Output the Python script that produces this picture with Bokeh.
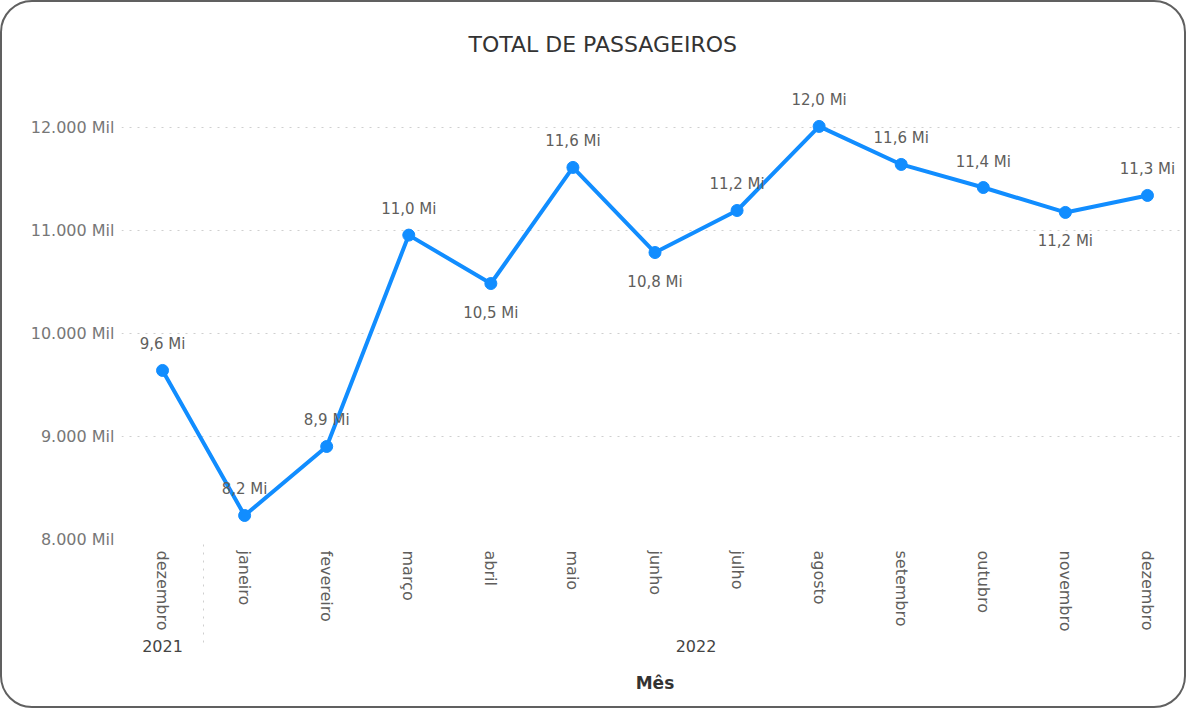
from bokeh.plotting import figure
from bokeh.models import FactorRange, ColumnDataSource, FixedTicker, Range1d, LabelSet
from bokeh.core.properties import value
from bokeh.embed import file_html
from bokeh.resources import INLINE

# ---- data ----
years = ["2021"] + ["2022"] * 12
months = ["dezembro", "janeiro", "fevereiro", "março", "abril", "maio", "junho",
          "julho", "agosto", "setembro", "outubro", "novembro", "dezembro"]
passageiros_mil = [9641, 8233, 8903, 10955, 10485, 11612, 10786,
                   11194, 12010, 11641, 11417, 11175, 11340]
y_ticks = [8000, 9000, 10000, 11000, 12000]

# label placement style (Power BI auto placement)
label_below = [False, False, False, False, True, False, True,
               False, False, False, False, True, False]

FONT = "DejaVu Sans"
factors = list(zip(years, months))
labels = [("%.1f" % (v / 1000.0)).replace(".", ",") + " Mi" for v in passageiros_mil]
offsets = [-29 if b else 26 for b in label_below]

src = ColumnDataSource(dict(x=factors, y=passageiros_mil, lbl=labels, off=offsets))

p = figure(width=1186, height=708,
           x_range=FactorRange(*factors, group_padding=0, factor_padding=0),
           y_range=Range1d(8000, 12553),
           output_backend="svg", toolbar_location=None,
           min_border_left=119, min_border_right=0, min_border_top=68, min_border_bottom=171,
           title="TOTAL DE PASSAGEIROS")
p.styles = {"border": "2px solid #606060", "border-radius": "32px"}
p.outline_line_color = None
p.background_fill_color = None
p.border_fill_color = None

p.title.align = "left"
p.title.offset = 347
p.title.text_font = FONT
p.title.text_font_size = "22px"
p.title.text_font_style = "normal"
p.title.text_color = "#333333"
p.title.standoff = 27

p.line("x", "y", source=src, line_color="#118DFF", line_width=4)
p.scatter("x", "y", source=src, size=12, fill_color="#118DFF", line_color="#118DFF")

ls = LabelSet(x="x", y="y", text="lbl", source=src, y_offset="off", x_offset=0,
              text_align="center", text_baseline="middle",
              text_font=value(FONT), text_font_size="15px", text_color="#605E5C")
p.add_layout(ls)

# y axis
p.yaxis.ticker = FixedTicker(ticks=y_ticks)
p.yaxis.major_label_overrides = {t: "{:,}".format(t).replace(",", ".") + " Mil" for t in y_ticks}
p.yaxis.axis_line_color = None
p.yaxis.major_tick_line_color = None
p.yaxis.minor_tick_line_color = None
p.yaxis.major_label_text_font = FONT
p.yaxis.major_label_text_font_size = "16px"
p.yaxis.major_label_text_color = "#777777"
p.yaxis.major_label_standoff = 1

p.ygrid.grid_line_color = "#cfcfcf"
p.ygrid.grid_line_dash = "2 6"
p.ygrid.grid_line_width = 1
p.xgrid.grid_line_color = None

# x axis
xa = p.xaxis[0]
xa.axis_line_color = None
xa.major_tick_line_color = None
xa.minor_tick_line_color = None
xa.major_label_orientation = "vertical"
xa.major_label_text_font = FONT
xa.major_label_text_font_size = "16px"
xa.major_label_text_color = "#605E5C"
xa.major_label_standoff = 5
xa.group_text_font = FONT
xa.group_text_font_size = "16px"
xa.group_text_font_style = "normal"
xa.group_text_color = "#444444"
xa.group_label_orientation = "horizontal"
xa.separator_line_color = "#cfcfcf"
xa.separator_line_dash = "2 6"
xa.separator_line_width = 1
xa.axis_label = "Mês"
xa.axis_label_text_font = FONT
xa.axis_label_text_font_size = "17px"
xa.axis_label_text_font_style = "bold"
xa.axis_label_text_color = "#333333"
xa.axis_label_standoff = 18

open("out.html", "w").write(file_html(p, INLINE))
